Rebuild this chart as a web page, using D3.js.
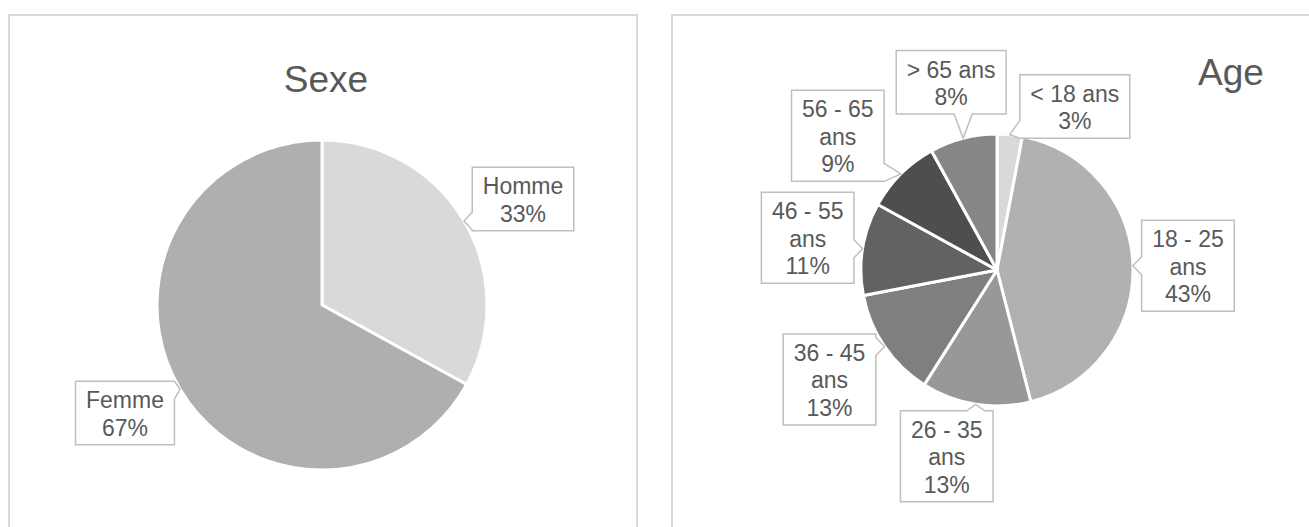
<!DOCTYPE html>
<html>
<head>
<meta charset="utf-8">
<script src="https://cdn.jsdelivr.net/npm/d3@7"></script>
<style>
  body { margin: 0; background: #fff; }
  text { font-family: "Liberation Sans", Arial, sans-serif; fill: #595959; }
</style>
</head>
<body>
<svg width="1309" height="527"></svg>
<script>
// data
var sexeLabels = ["Homme", "Femme"];
var sexeValues = [33, 67];
var sexeColors = ["#d9d9d9", "#afafaf"];

var ageLabels = ["< 18 ans", "18 - 25 ans", "26 - 35 ans", "36 - 45 ans", "46 - 55 ans", "56 - 65 ans", "> 65 ans"];
var ageValues = [3, 43, 13, 13, 11, 9, 8];
var ageColors = ["#d9d9d9", "#b1b1b1", "#989898", "#7f7f7f", "#626262", "#4e4e4e", "#868686"];

// callout box offsets (box centre relative to pointer tip)
var sexeOffsets = [[59, -22], [-55, 24]];
var ageOffsets = [[65, -28], [55, 0], [-29, 52], [-55, 33], [-55, -11], [-63, -38], [-12, -56]];

var svg = d3.select("svg");

// panels
svg.append("rect").attr("x", 9).attr("y", 15).attr("width", 628).attr("height", 540)
   .attr("fill", "#fff").attr("stroke", "#d9d9d9").attr("stroke-width", 2);
svg.append("rect").attr("x", 672).attr("y", 15).attr("width", 660).attr("height", 540)
   .attr("fill", "#fff").attr("stroke", "#d9d9d9").attr("stroke-width", 2);

function wrapLines(name) {
  if (name.length <= 8) return [name];
  var i = name.lastIndexOf(" ");
  return [name.slice(0, i), name.slice(i + 1)];
}

function drawPie(opt) {
  var g = svg.append("g").attr("transform", "translate(" + opt.cx + "," + opt.cy + ")");
  var pie = d3.pie().sort(null).value(function(d) { return d.v; });
  var arc = d3.arc().innerRadius(0).outerRadius(opt.r);
  var data = opt.labels.map(function(l, i) { return { name: l, v: opt.values[i], i: i }; });
  var arcs = pie(data);

  g.selectAll("path.slice").data(arcs).enter().append("path")
    .attr("class", "slice")
    .attr("d", arc)
    .attr("fill", function(d) { return opt.colors[d.data.i]; })
    .attr("stroke", "#fff")
    .attr("stroke-width", 3)
    .attr("stroke-linejoin", "round");

  var fs = 23, lh = 27.5, pad = 10.5;

  arcs.forEach(function(d) {
    var a = (d.startAngle + d.endAngle) / 2;
    var tip = [opt.r * Math.sin(a), -opt.r * Math.cos(a)];
    var off = opt.offsets[d.data.i];
    var lines = wrapLines(d.data.name).concat([d.data.v + "%"]);

    var lg = g.append("g");
    var txt = lg.append("text").attr("font-size", fs).attr("text-anchor", "middle");
    lines.forEach(function(l, k) {
      txt.append("tspan").attr("x", 0).attr("y", k * lh).text(l);
    });
    var w = 0;
    txt.selectAll("tspan").each(function() { w = Math.max(w, this.getComputedTextLength()); });
    var bw = w + 2 * pad;
    var bh = 27 + (lines.length - 1) * lh + 9;
    var cx = tip[0] + off[0], cy = tip[1] + off[1];
    var x0 = cx - bw / 2, x1 = cx + bw / 2, y0 = cy - bh / 2, y1 = cy + bh / 2;

    // callout outline with pointer on side facing the tip
    var tx = tip[0], ty = tip[1], hw = 9, pts;
    function cl(v, lo, hi) { return Math.max(lo, Math.min(hi, v)); }
    if (tx < x0) {
      var c = cl(ty, y0 + hw, y1 - hw);
      pts = [[x0, y0], [x1, y0], [x1, y1], [x0, y1], [x0, c + hw], [tx, ty], [x0, c - hw]];
    } else if (tx > x1) {
      var c2 = cl(ty, y0 + hw, y1 - hw);
      pts = [[x0, y0], [x1, y0], [x1, c2 - hw], [tx, ty], [x1, c2 + hw], [x1, y1], [x0, y1]];
    } else if (ty < y0) {
      var c3 = cl(tx, x0 + hw, x1 - hw);
      pts = [[x0, y0], [c3 - hw, y0], [tx, ty], [c3 + hw, y0], [x1, y0], [x1, y1], [x0, y1]];
    } else {
      var c4 = cl(tx, x0 + hw, x1 - hw);
      pts = [[x0, y0], [x1, y0], [x1, y1], [c4 + hw, y1], [tx, ty], [c4 - hw, y1], [x0, y1]];
    }
    lg.insert("path", "text")
      .attr("d", d3.line()(pts) + "Z")
      .attr("fill", "#fff")
      .attr("stroke", "#bfbfbf")
      .attr("stroke-width", 1.5);
    txt.attr("transform", "translate(" + cx + "," + (y0 + 27) + ")");
  });

  svg.append("text")
    .attr("x", opt.tx).attr("y", opt.ty)
    .attr("text-anchor", "middle")
    .attr("font-size", 37)
    .text(opt.title);
}

drawPie({ title: "Sexe", tx: 326, ty: 92, cx: 322, cy: 305, r: 165,
          labels: sexeLabels, values: sexeValues, colors: sexeColors, offsets: sexeOffsets });
drawPie({ title: "Age", tx: 1231, ty: 85, cx: 997, cy: 270, r: 136,
          labels: ageLabels, values: ageValues, colors: ageColors, offsets: ageOffsets });
</script>
</body>
</html>
